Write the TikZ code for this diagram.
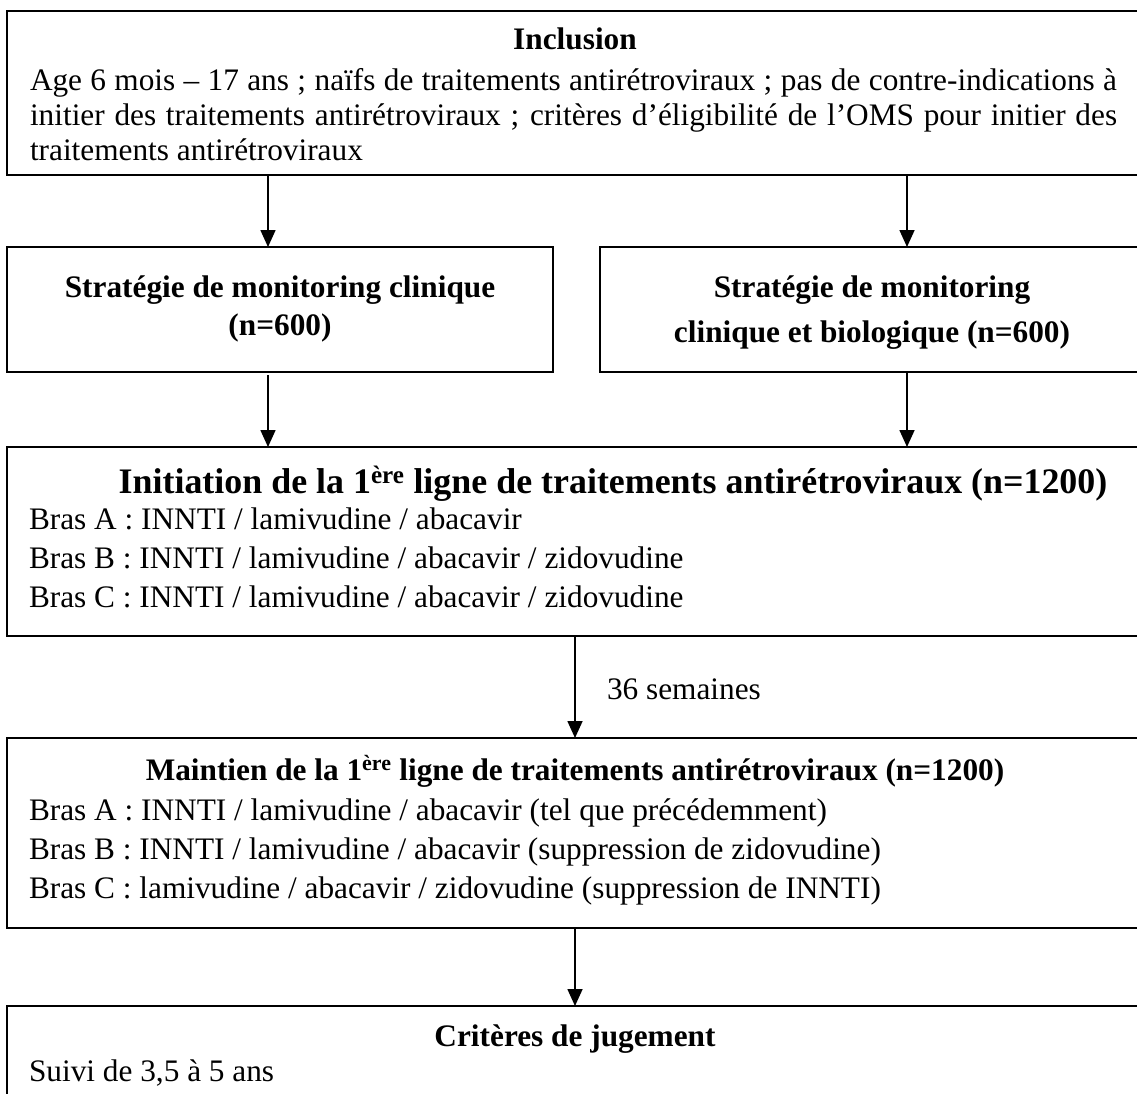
\documentclass[tikz,border=0pt]{standalone}
\usepackage{fontspec}
\setmainfont{Liberation Serif}
\usetikzlibrary{arrows.meta}
\begin{document}
\begin{tikzpicture}[x=1pt,y=-1pt,
  box/.style={draw,line width=1.6pt,inner sep=0pt,outer sep=0pt,rectangle},
  arr/.style={line width=1.6pt,-{Triangle[width=15pt,length=17pt]}},
  txt/.style={inner sep=0pt,outer sep=0pt,anchor=base west,font=\fontsize{31.3}{36}\selectfont},
  ttl/.style={inner sep=0pt,outer sep=0pt,anchor=base,font=\fontsize{31.3}{36}\selectfont\bfseries},
  bigttl/.style={inner sep=0pt,outer sep=0pt,anchor=base,font=\fontsize{35.9}{42}\selectfont\bfseries}]
\useasboundingbox (0,0) rectangle (1137,1093);
% boxes
\node[box,minimum width=1137pt,minimum height=164pt] (top) at (575.5,93) {};
\node[box,minimum width=546pt,minimum height=125pt] (left) at (280,309.5) {};
\node[box,minimum width=544pt,minimum height=125pt] (right) at (872,309.5) {};
\node[box,minimum width=1137pt,minimum height=189pt] (init) at (575.5,541.5) {};
\node[box,minimum width=1137pt,minimum height=190pt] (maint) at (575.5,833) {};
\node[box,minimum width=1137pt,minimum height=104pt] (crit) at (575.5,1058) {};
% top text
\node[ttl] (t0) at (575,49) {Inclusion};
\node[txt] (t1) at (30,90) {\makebox[1087pt][s]{Age 6 mois -- 17 ans ; naïfs de traitements antirétroviraux ; pas de contre-indications à}};
\node[txt] (t2) at (30,125) {\makebox[1087pt][s]{initier des traitements antirétroviraux ; critères d’éligibilité de l’OMS pour initier des}};
\node[txt] (t3) at (30,160) {traitements antirétroviraux};
% middle boxes text
\node[ttl] (l1) at (280,297) {Stratégie de monitoring clinique};
\node[ttl] (l2) at (280,335) {(n=600)};
\node[ttl] (r1) at (872,297) {Stratégie de monitoring};
\node[ttl] (r2) at (872,342) {clinique et biologique (n=600)};
% initiation
\node[bigttl] (i0) at (613,493) {Initiation de la 1\textsuperscript{ère} ligne de traitements antirétroviraux (n=1200)};
\node[txt] (i1) at (29,529) {Bras A : INNTI / lamivudine / abacavir};
\node[txt] (i2) at (29,568) {Bras B : INNTI / lamivudine / abacavir / zidovudine};
\node[txt] (i3) at (29,607) {Bras C : INNTI / lamivudine / abacavir / zidovudine};
% maintien
\node[ttl] (m0) at (575,780) {Maintien de la 1\textsuperscript{ère} ligne de traitements antirétroviraux (n=1200)};
\node[txt] (m1) at (29,820) {Bras A : INNTI / lamivudine / abacavir (tel que précédemment)};
\node[txt] (m2) at (29,859) {Bras B : INNTI / lamivudine / abacavir (suppression de zidovudine)};
\node[txt] (m3) at (29,898) {Bras C : lamivudine / abacavir / zidovudine (suppression de INNTI)};
% criteres
\node[ttl] (c0) at (575,1046) {Critères de jugement};
\node[txt] (c1) at (29,1081) {Suivi de 3,5 à 5 ans};
% arrows
\coordinate (ax) at (268,0);
\coordinate (bx) at (907,0);
\coordinate (cx) at (575,0);
\draw[arr] (top.south -| ax) -- (left.north -| ax);
\draw[arr] (top.south -| bx) -- (right.north -| bx);
\draw[arr] ([yshift=-3pt]left.south -| ax) -- (init.north -| ax);
\draw[arr] (right.south -| bx) -- (init.north -| bx);
\draw[arr] (init.south -| cx) -- node[txt,anchor=base west,pos=0.62,xshift=32pt] (lab) {36 semaines} (maint.north -| cx);
\draw[arr] (maint.south -| cx) -- (crit.north -| cx);
\end{tikzpicture}
\end{document}
